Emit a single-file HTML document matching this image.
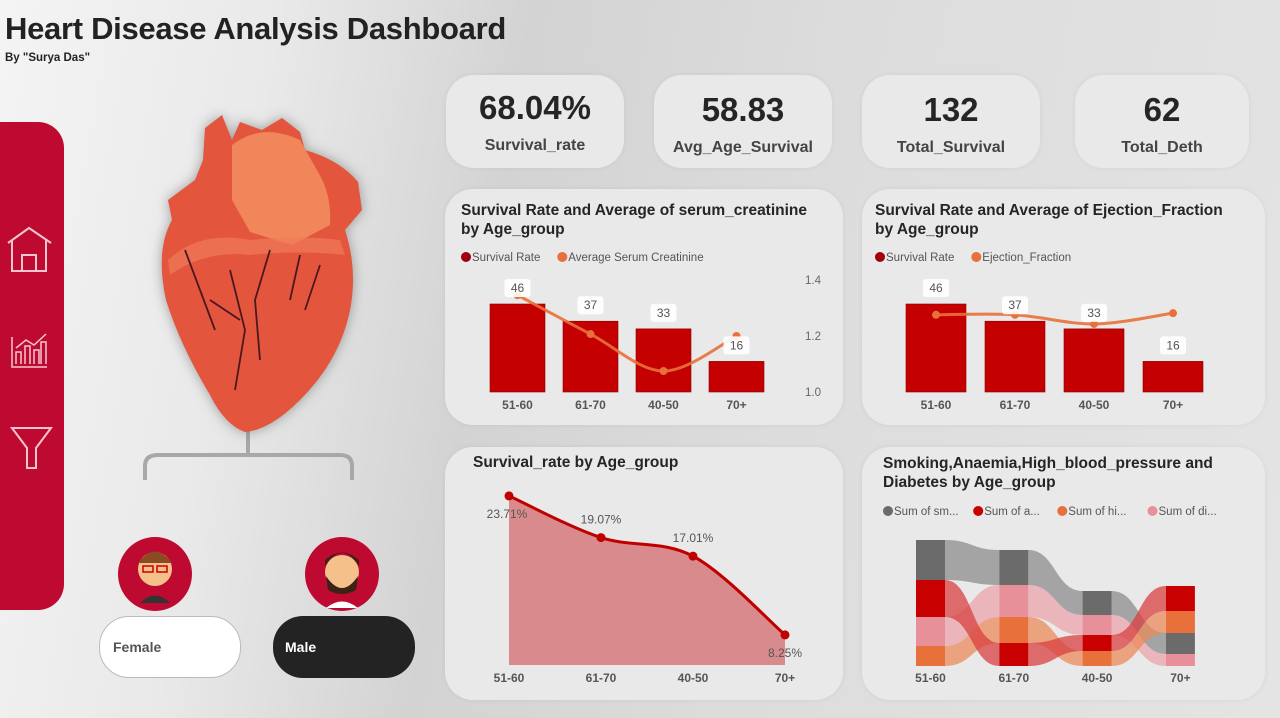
<!DOCTYPE html>
<html><head><meta charset="utf-8">
<style>
html,body{margin:0;padding:0;}
body{width:1280px;height:718px;overflow:hidden;position:relative;font-family:"Liberation Sans",sans-serif;
background:linear-gradient(100deg,#f4f4f4 0%,#e9e9e9 20%,#d3d3d3 38%,#dcdcdc 60%,#e4e4e4 100%);}
.card{position:absolute;background:#e9e9e9;border-radius:28px;box-shadow:0 0 6px rgba(0,0,0,0.06);}
.kpi .v{position:absolute;left:0;right:0;text-align:center;font-weight:bold;font-size:33px;color:#252525;}
.kpi .l{position:absolute;left:0;right:0;text-align:center;font-size:16px;color:#444;font-weight:bold;}
.ct{position:absolute;font-weight:bold;font-size:15.5px;color:#252525;line-height:19px;}
svg text{font-family:"Liberation Sans",sans-serif;}
</style></head><body>
<div style="position:absolute;left:5px;top:11px;font-size:31px;font-weight:bold;color:#222;letter-spacing:-0.3px">Heart Disease Analysis Dashboard</div>
<div style="position:absolute;left:5px;top:52px;font-size:11.5px;font-weight:bold;color:#222">By "Surya Das"</div>

<div style="position:absolute;left:0;top:122px;width:64px;height:488px;background:#be0a30;border-radius:0 26px 26px 0"></div>
<svg style="position:absolute;left:0;top:0" width="440" height="718">
<g fill="none" stroke="#f3c6cf" stroke-width="2"><path d="M8 243 L29 228 L51 243 M12 240 V271 H46 V240 M22 271 V255 H36 V271"/></g>
<g fill="none" stroke="#f3c6cf" stroke-width="1.5"><path d="M12 337 V367 H47 M16 364 V352 h5 v12 M25 364 V346 h5 v18 M34 364 V350 h5 v14 M41 364 V342 h5 v22 M16 348 L26 340 L34 345 L46 334"/></g>
<g fill="none" stroke="#f3c6cf" stroke-width="2"><path d="M12 428 H51 L36 448 V468 H27 V448 Z"/></g>
<g fill="none" stroke="#a8a8a8" stroke-width="4"><path d="M248 393 V455 M145 480 V466 Q145 455 158 455 H340 Q352 455 352 466 V480"/></g>
<g filter="drop-shadow(0 0 6px rgba(80,80,80,0.5))">
<path d="M205 128 L222 115 L232 140 L240 122 L262 130 L282 118 L300 132 L305 150 Q340 160 358 182 L362 210 L345 230 Q358 270 350 310 Q340 360 300 400 Q270 430 245 432 Q225 425 210 395 Q180 345 166 300 Q155 250 172 220 L168 200 L195 180 L203 160 Z" fill="#e4553d"/>
<path d="M232 145 Q262 122 300 140 L318 172 Q332 195 330 225 L292 245 L250 232 L232 200 Z" fill="#f0865a"/>
<path d="M168 260 Q200 230 250 240 Q300 235 340 240 L345 255 Q300 250 250 255 Q205 250 170 275 Z" fill="#f07a5a" opacity="0.7"/>
<path d="M185 250 Q200 290 215 330 M230 270 L245 330 L235 390 M270 250 L255 300 L260 360 M300 255 L290 300 M210 300 L240 320 M320 265 L305 310" stroke="#4a1820" stroke-width="1.8" fill="none"/>
</g>
<g><circle cx="155" cy="574" r="37" fill="#be0a30"/><circle cx="155" cy="569" r="17" fill="#f5c08a"/><path d="M138 563 Q155 540 172 563 Z" fill="#8a4a22"/><path d="M140 603 Q155 588 170 603 Z" fill="#333"/><rect x="143" y="566" width="10" height="6" fill="none" stroke="#c00" stroke-width="1.5"/><rect x="157" y="566" width="10" height="6" fill="none" stroke="#c00" stroke-width="1.5"/></g>
<g><circle cx="342" cy="574" r="37" fill="#be0a30"/><circle cx="342" cy="572" r="17" fill="#f5c08a"/><path d="M325 566 Q342 540 359 566 L359 560 Q342 545 325 560 Z" fill="#3a2214"/><path d="M326 576 Q342 600 358 576 L356 590 Q342 598 328 590 Z" fill="#3a2214"/><path d="M326 608 Q342 595 358 608 Z" fill="#fff"/></g>
</svg>
<div style="position:absolute;left:99px;top:616px;width:142px;height:62px;background:#fff;border:1px solid #bbb;box-sizing:border-box;border-radius:30px;font-weight:bold;font-size:14px;color:#555;line-height:60px;padding-left:13px">Female</div>
<div style="position:absolute;left:273px;top:616px;width:142px;height:62px;background:#232323;border-radius:30px;font-weight:bold;font-size:14px;color:#fff;line-height:62px;padding-left:12px;box-sizing:border-box">Male</div>

<div class="card kpi" style="left:446px;top:75px;width:178px;height:93px"><div class="v" style="top:14px">68.04%</div><div class="l" style="top:62px">Survival_rate</div></div>
<div class="card kpi" style="left:654px;top:75px;width:178px;height:93px"><div class="v" style="top:16px">58.83</div><div class="l" style="top:64px">Avg_Age_Survival</div></div>
<div class="card kpi" style="left:862px;top:75px;width:178px;height:93px"><div class="v" style="top:16px">132</div><div class="l" style="top:64px">Total_Survival</div></div>
<div class="card kpi" style="left:1075px;top:75px;width:174px;height:93px"><div class="v" style="top:16px">62</div><div class="l" style="top:64px">Total_Deth</div></div>

<div class="card" style="left:445px;top:189px;width:398px;height:236px"><div class="ct" style="left:16px;top:12px">Survival Rate and Average of serum_creatinine<br>by Age_group</div></div>
<div class="card" style="left:862px;top:189px;width:403px;height:236px"><div class="ct" style="left:13px;top:12px">Survival Rate and Average of Ejection_Fraction<br>by Age_group</div></div>
<div class="card" style="left:445px;top:447px;width:398px;height:253px"><div class="ct" style="left:28px;top:6px">Survival_rate by Age_group</div></div>
<div class="card" style="left:862px;top:447px;width:403px;height:253px"><div class="ct" style="left:21px;top:7px">Smoking,Anaemia,High_blood_pressure and<br>Diabetes by Age_group</div></div>

<svg id="charts" style="position:absolute;left:0;top:0" width="1280" height="718"></svg>
<script>
const categories=["51-60","61-70","40-50","70+"];
const survivalCounts=[46,37,33,16];
const serumCreatinine=[1.346,1.207,1.075,1.2];
const serumTicks=[1.0,1.2,1.4];
const ejectionFraction=[39.3,39.3,37.6,39.6];
const survivalRatePct=[23.71,19.07,17.01,8.25];
const survivalRateLabels=["23.71%","19.07%","17.01%","8.25%"];
const ribbonSeries=["Sum of sm...","Sum of a...","Sum of hi...","Sum of di..."];
const smoking=[40,35,24,21];
const anaemia=[37,23,16,25];
const highBP=[20,26,15,22];
const diabetes=[29,32,20,12];

const svg=document.getElementById('charts');
const NS='http://www.w3.org/2000/svg';
function mk(tag,attrs,parent){const e=document.createElementNS(NS,tag);for(const k in attrs)e.setAttribute(k,attrs[k]);(parent||svg).appendChild(e);return e;}
function txt(x,y,s,attrs){const t=mk('text',Object.assign({x:x,y:y},attrs));t.textContent=s;return t;}
function smooth(pts){let d='M'+pts[0][0]+' '+pts[0][1];for(let i=0;i<pts.length-1;i++){const p0=pts[i-1]||pts[i],p1=pts[i],p2=pts[i+1],p3=pts[i+2]||p2;const c1x=p1[0]+(p2[0]-p0[0])/6,c1y=p1[1]+(p2[1]-p0[1])/6,c2x=p2[0]-(p3[0]-p1[0])/6,c2y=p2[1]-(p3[1]-p1[1])/6;d+=' C'+c1x+' '+c1y+' '+c2x+' '+c2y+' '+p2[0]+' '+p2[1];}return d;}

function legend(x,y,items,colors,name){
  let cx=x;
  items.forEach((s,i)=>{
    const c=mk('circle',{cx:cx+5,cy:y-4,r:5,fill:colors[i]});
    
    
    const t=txt(cx+11,y,s,{'font-size':11.5,fill:'#555'});
    
    
    cx+=11+s.length*6.1+6;
  });
}

function combo(x0,step,bw,lineVals,yLine,name,showAxis){
  const base=392;
  const yB=v=>base-v*1.913;
  const pts=[];
  categories.forEach((c,i)=>{
    const bx=x0+i*step;
    const r=mk('rect',{x:bx,y:yB(survivalCounts[i]),width:bw,height:base-yB(survivalCounts[i]),fill:'#c50000',stroke:'#8a0000','stroke-width':0.6});
    
    
    const t=txt(bx+bw/2,409,c,{'font-size':12,'font-weight':'bold',fill:'#555','text-anchor':'middle'});
    
    
    pts.push([bx+bw/2,yLine(lineVals[i])]);
  });
  const l=mk('path',{d:smooth(pts),fill:'none',stroke:'#e8703a','stroke-width':3,opacity:0.9});
  
  
  pts.forEach(p=>{const d=mk('circle',{cx:p[0],cy:p[1],r:4,fill:'#e8703a'});
    
    });
  categories.forEach((c,i)=>{
    const cx=x0+i*step+bw/2, cy=yB(survivalCounts[i])-16;
    const b=mk('rect',{x:cx-13,y:cy-9,width:26,height:18,rx:3,fill:'#fff',opacity:0.9});
    
    
    const t=txt(cx,cy+4,String(survivalCounts[i]),{'font-size':12,fill:'#555','text-anchor':'middle'});
    
    
  });
}
legend(461,261,["Survival Rate","Average Serum Creatinine"],["#a00010","#e8703a"],'creatinine-legend');
const ySerum=v=>392-(v-1.0)*280;
combo(490,73,55,serumCreatinine,ySerum,'creatinine',true);
serumTicks.forEach(v=>{const t=txt(813,ySerum(v)+4,v.toFixed(1),{'font-size':11.5,fill:'#666','text-anchor':'middle'});
  
  });
legend(875,261,["Survival Rate","Ejection_Fraction"],["#a00010","#e8703a"],'ejection-legend');
const yEj=v=>392-(v-25)*5.4;
combo(906,79,60,ejectionFraction,yEj,'ejection',false);

(function(){
  const xs=i=>509+i*92;
  const yA=v=>665-(v-4.9)*8.99;
  const pts=survivalRatePct.map((v,i)=>[xs(i),yA(v)]);
  const line=smooth(pts);
  const a=mk('path',{d:line+' L'+xs(3)+' 665 L'+xs(0)+' 665 Z',fill:'#d98a8c'});
  
  
  const l=mk('path',{d:line,fill:'none',stroke:'#c00000','stroke-width':3});
  
  
  const off=[[-2,22],[0,-14],[0,-14],[0,22]];
  pts.forEach((p,i)=>{
    const c=mk('circle',{cx:p[0],cy:p[1],r:4.5,fill:'#c00000'});
    
    
    const t=txt(p[0]+off[i][0],p[1]+off[i][1],survivalRateLabels[i],{'font-size':12,fill:'#555','text-anchor':'middle'});
    
    
    const k=txt(p[0],682,categories[i],{'font-size':12,'font-weight':'bold',fill:'#555','text-anchor':'middle'});
    
    
  });
})();

(function(){
  const colors=['#6b6b6b','#c80000','#e8703a','#e8909a'];
  const ribbonColors=['#8c8c8c','#d84040','#eb8a5a','#eaa4ac'];
  const series=[smoking,anaemia,highBP,diabetes];
  legend(883,515,ribbonSeries,colors,'ribbon-legend');
  const colX=i=>916+i*83.3, cw=29, base=666;
  const pos=categories.map((c,i)=>{
    const order=[0,1,2,3].sort((a,b)=>series[a][i]-series[b][i]);
    const p={};let y=base;
    order.forEach(s=>{const h=series[s][i];p[s]=[y-h,y];y-=h;});
    return p;
  });
  for(let i=0;i<categories.length-1;i++){
    const x1=colX(i)+cw,x2=colX(i+1),mx=(x1+x2)/2;
    [0,3,2,1].forEach(s=>{
      const a=pos[i][s],b=pos[i+1][s];
      const r=mk('path',{d:`M${x1} ${a[0]} C${mx} ${a[0]} ${mx} ${b[0]} ${x2} ${b[0]} L${x2} ${b[1]} C${mx} ${b[1]} ${mx} ${a[1]} ${x1} ${a[1]} Z`,fill:ribbonColors[s],opacity:0.75});
      
      
    });
  }
  categories.forEach((c,i)=>{
    [0,1,2,3].forEach(s=>{
      const p=pos[i][s];
      const r=mk('rect',{x:colX(i),y:p[0],width:cw,height:p[1]-p[0],fill:colors[s]});
      
      
    });
    const t=txt(colX(i)+cw/2,682,c,{'font-size':12,'font-weight':'bold',fill:'#555','text-anchor':'middle'});
    
    
  });
})();
</script>
</body></html>
